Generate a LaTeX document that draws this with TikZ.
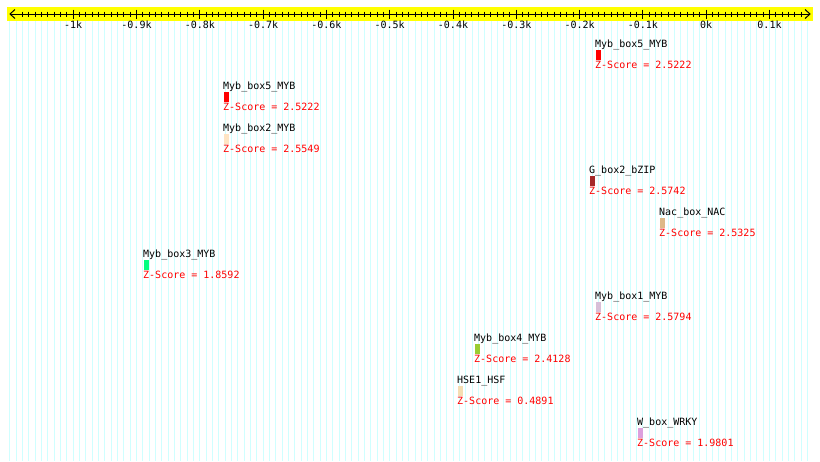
\documentclass[tikz,border=0pt]{standalone}
\usepackage{fontspec}
\setmonofont{DejaVu Sans Mono}
\definecolor{gridc}{HTML}{CFFFFF}
\definecolor{bandc}{HTML}{FFFF00}
\definecolor{zred}{HTML}{FF0000}
\definecolor{cRed}{HTML}{FF0000}
\definecolor{cBisque}{HTML}{FFE4C4}
\definecolor{cBrown}{HTML}{A52A2A}
\definecolor{cBurly}{HTML}{DEB887}
\definecolor{cSpring}{HTML}{00FF7F}
\definecolor{cThistle}{HTML}{D8BFD8}
\definecolor{cYgreen}{HTML}{9ACD32}
\definecolor{cWheat}{HTML}{F5DEB3}
\definecolor{cPlum}{HTML}{DDA0DD}
\tikzset{
  gridline/.style={draw=gridc, line width=0.9pt},
  ticklabel/.style={inner sep=0pt, anchor=base, font=\ttfamily\fontsize{10}{12}\selectfont},
  motiflabel/.style={inner sep=0pt, anchor=base west, font=\ttfamily\fontsize{10}{12}\selectfont, text=black},
  zlabel/.style={inner sep=0pt, anchor=base west, font=\ttfamily\fontsize{10}{12}\selectfont, text=zred},
  axisline/.style={draw=black, line width=1pt},
}
\newcommand{\motif}[6]{%
  % #1 name, #2 x, #3 top, #4 color, #5 label, #6 zscore
  \node[motiflabel] (#1l) at (#2,#3+7.3) {#5};
  \fill[#4] (#2+0.8,#3+9.5) rectangle (#2+6.2,#3+19.5);
  \node[zlabel] (#1z) at (#2,#3+28.8) {Z-Score = #6};
}
\begin{document}
\begin{tikzpicture}[x=1pt,y=-1pt]
\useasboundingbox (0,0) rectangle (820,461);
\fill[white] (0,0) rectangle (820,461);
% grid
\foreach \i in {-10,...,116} \draw[gridline] ({73.2+6.33*\i},21) -- ({73.2+6.33*\i},461);
% band
\fill[bandc] (7,7) rectangle (813,21);
% axis
\coordinate (axl) at (10,14);
\coordinate (axr) at (810,14);
\draw[axisline] (axl) -- (axr);
\draw[axisline] (15,9.5) -- (axl) -- (15,18.5);
\draw[axisline] (805,9.5) -- (axr) -- (805,18.5);
\foreach \i in {-8,...,115} \draw[axisline] ({73.2+6.33*\i},11.5) -- ({73.2+6.33*\i},16.5);
\foreach \i in {0,10,...,110} \draw[axisline] ({73.2+6.33*\i},9.5) -- ({73.2+6.33*\i},18.5);
\foreach \i/\t in {0/-1k,10/-0.9k,20/-0.8k,30/-0.7k,40/-0.6k,50/-0.5k,60/-0.4k,70/-0.3k,80/-0.2k,90/-0.1k,100/0k,110/0.1k}
  \node[ticklabel] (tl\i) at ({73.2+6.33*\i},28.5) {\t};
% motifs
\motif{m1}{595}{40}{cRed}{Myb\_box5\_MYB}{2.5222}
\motif{m2}{223}{82}{cRed}{Myb\_box5\_MYB}{2.5222}
\motif{m3}{223}{124}{cBisque}{Myb\_box2\_MYB}{2.5549}
\motif{m4}{589}{166}{cBrown}{G\_box2\_bZIP}{2.5742}
\motif{m5}{659}{208}{cBurly}{Nac\_box\_NAC}{2.5325}
\motif{m6}{143}{250}{cSpring}{Myb\_box3\_MYB}{1.8592}
\motif{m7}{595}{292}{cThistle}{Myb\_box1\_MYB}{2.5794}
\motif{m8}{474}{334}{cYgreen}{Myb\_box4\_MYB}{2.4128}
\motif{m9}{457}{376}{cWheat}{HSE1\_HSF}{0.4891}
\motif{m10}{637}{418}{cPlum}{W\_box\_WRKY}{1.9801}
\end{tikzpicture}
\end{document}
